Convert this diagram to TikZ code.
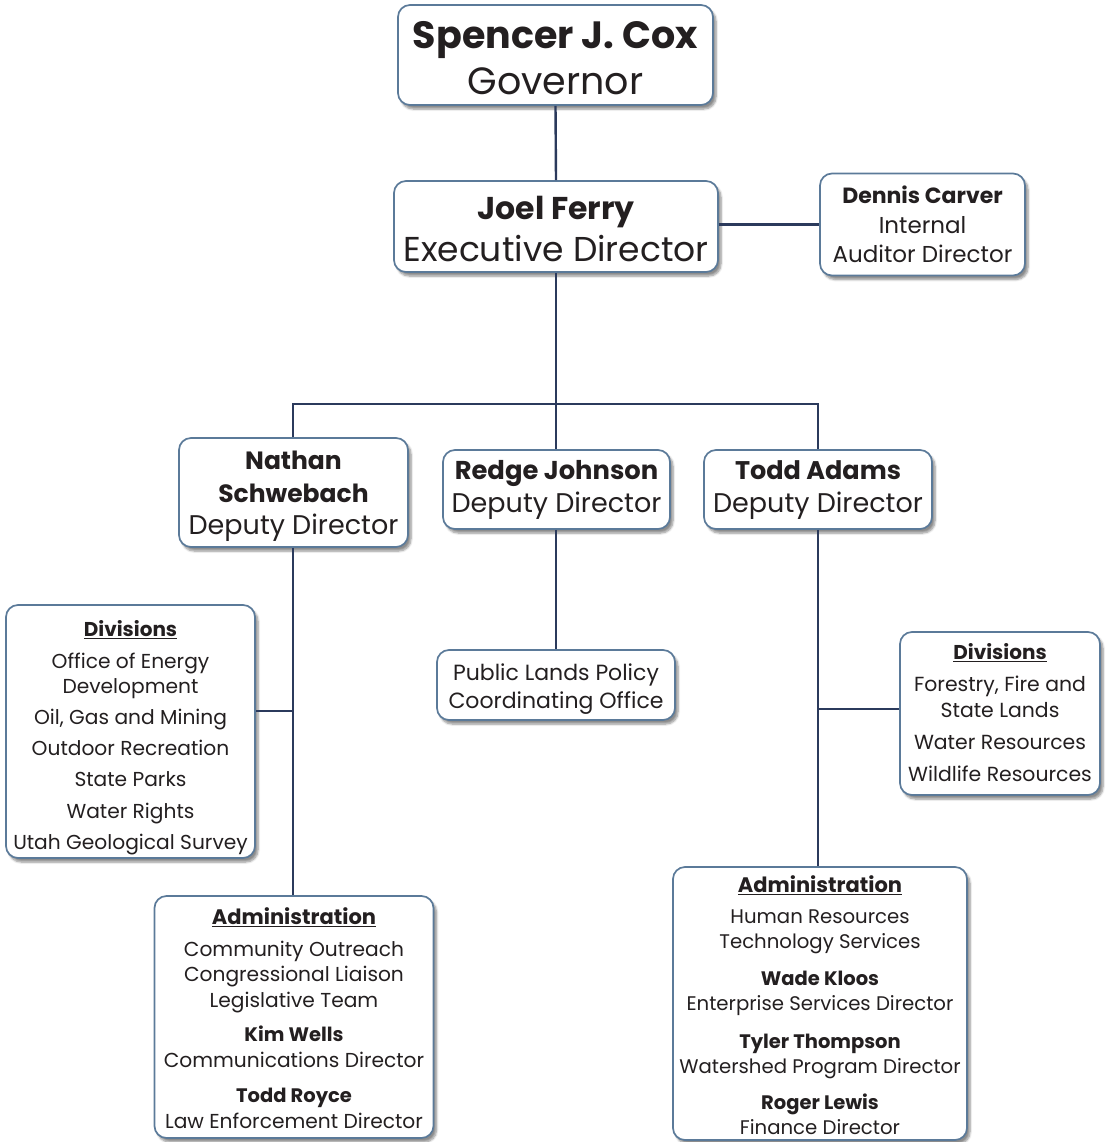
\documentclass[tikz,border=0pt]{standalone}
\usepackage{fontspec}
\setmainfont{Poppins}
\usetikzlibrary{shadows.blur}
\definecolor{boxblue}{HTML}{5B7A99}
\definecolor{linenavy}{HTML}{2B3A5C}
\definecolor{txt}{HTML}{231F20}
\newcommand{\fs}[2]{\fontsize{#1}{#2}\selectfont}
\newcommand{\bl}[2]{{\fontsize{#1}{#1}\selectfont\bfseries #2}}
\begin{document}
\begin{tikzpicture}[x=1pt,y=-1pt,
  orgbox/.style={draw=boxblue, line width=1.7pt, rounded corners=12pt, fill=white,
    blur shadow={shadow xshift=3pt, shadow yshift=-4pt, shadow blur steps=6, shadow opacity=45},
    inner sep=0pt},
  boxtext/.style={align=center, inner sep=0pt, text=txt},
  link/.style={draw=linenavy, line width=2.4pt}]
\useasboundingbox (0,0) rectangle (1107,1142);

% boxes
\node[orgbox, minimum width=315pt, minimum height=100pt] (gov) at (555.5,55) {};
\node[orgbox, minimum width=324pt, minimum height=91pt] (joel) at (556,226.5) {};
\node[orgbox, minimum width=205pt, minimum height=102pt] (dennis) at (922.5,224.5) {};
\node[orgbox, minimum width=229pt, minimum height=109pt] (nathan) at (293.5,492.5) {};
\node[orgbox, minimum width=227pt, minimum height=79pt] (redge) at (556.5,489.5) {};
\node[orgbox, minimum width=228pt, minimum height=79pt] (todd) at (818,489.5) {};
\node[orgbox, minimum width=249pt, minimum height=253pt] (divL) at (130.5,731.5) {};
\node[orgbox, minimum width=238pt, minimum height=70pt] (plp) at (556,685) {};
\node[orgbox, minimum width=200pt, minimum height=163pt] (divR) at (1000,713.5) {};
\node[orgbox, minimum width=279pt, minimum height=242pt] (admL) at (294,1017) {};
\node[orgbox, minimum width=294pt, minimum height=273pt] (admR) at (820,1003.5) {};

% texts
\node[boxtext, font=\fs{38}{46}, yshift=-3pt] (govT) at (gov.center)
  {\bl{38}{Spencer J. Cox}\\ Governor};
\node[boxtext, font=\fs{34.5}{42}, yshift=-2pt] (joelT) at (joel.center)
  {\bl{31.5}{Joel Ferry}\\ Executive Director};
\node[boxtext, font=\fs{23}{29.5}] (dennisT) at (dennis.center)
  {\bl{22}{Dennis Carver}\\ Internal\\ Auditor Director};
\node[boxtext, font=\fs{27}{32.5}, yshift=-4pt] (nathanT) at (nathan.center)
  {\bl{25}{Nathan}\\ \bl{25}{Schwebach}\\ Deputy Director};
\node[boxtext, font=\fs{27}{33}] (redgeT) at (redge.center)
  {\bl{25.8}{Redge Johnson}\\ Deputy Director};
\node[boxtext, font=\fs{27}{33}, yshift=-1pt] (toddT) at (todd.center)
  {\bl{25.5}{Todd Adams}\\ Deputy Director};
\node[boxtext, font=\fs{20.2}{25}, yshift=-6pt] (divLT) at (divL.center)
  {\bl{20}{\underline{Divisions}}\\[7pt] Office of Energy\\ Development\\[6pt]
   Oil, Gas and Mining\\[6pt] Outdoor Recreation\\[6pt] State Parks\\[7pt]
   Water Rights\\[6pt] Utah Geological Survey};
\node[boxtext, font=\fs{22}{28}, yshift=-4pt] (plpT) at (plp.center)
  {Public Lands Policy\\ Coordinating Office};
\node[boxtext, font=\fs{20.4}{26}, yshift=1pt] (divRT) at (divR.center)
  {\bl{20}{\underline{Divisions}}\\[6pt] Forestry, Fire and\\ State Lands\\[6pt]
   Water Resources\\[6pt] Wildlife Resources};
\node[boxtext, font=\fs{20.2}{25.5}, yshift=-1pt] (admLT) at (admL.center)
  {\bl{21}{\underline{Administration}}\\[6pt] Community Outreach\\ Congressional Liaison\\
   Legislative Team\\[9pt] \bl{19.5}{Kim Wells}\\ Communications Director\\[10pt]
   \bl{19.5}{Todd Royce}\\ Law Enforcement Director};
\node[boxtext, font=\fs{19.7}{25}, yshift=-2pt] (admRT) at (admR.center)
  {\bl{21}{\underline{Administration}}\\[6pt] Human Resources\\ Technology Services\\[12pt]
   \bl{19.5}{Wade Kloos}\\ Enterprise Services Director\\[13pt]
   \bl{19.5}{Tyler Thompson}\\ Watershed Program Director\\[11pt]
   \bl{19.5}{Roger Lewis}\\ Finance Director};

% connectors
\coordinate (hub) at (556,404);
\coordinate (barL) at (293,404);
\coordinate (barR) at (818,404);
\coordinate (jL) at (293,711);
\coordinate (jR) at (818,709);

\draw[link] (gov.south) -- (joel.north);
\draw[link] (joel.east |- dennis.west) -- (dennis.west);
\draw[link] (joel.south) -- (hub);
\draw[link] (barL |- nathan.north) -- (barL) -- (barR) -- (barR |- todd.north);
\draw[link] (hub) -- (hub |- redge.north);
\draw[link] (barL |- nathan.south) -- (barL |- admL.north);
\draw[link] (jL) -- (jL -| divL.east);
\draw[link] (hub |- redge.south) -- (hub |- plp.north);
\draw[link] (barR |- todd.south) -- (barR |- admR.north);
\draw[link] (jR) -- (jR -| divR.west);
\end{tikzpicture}
\end{document}
